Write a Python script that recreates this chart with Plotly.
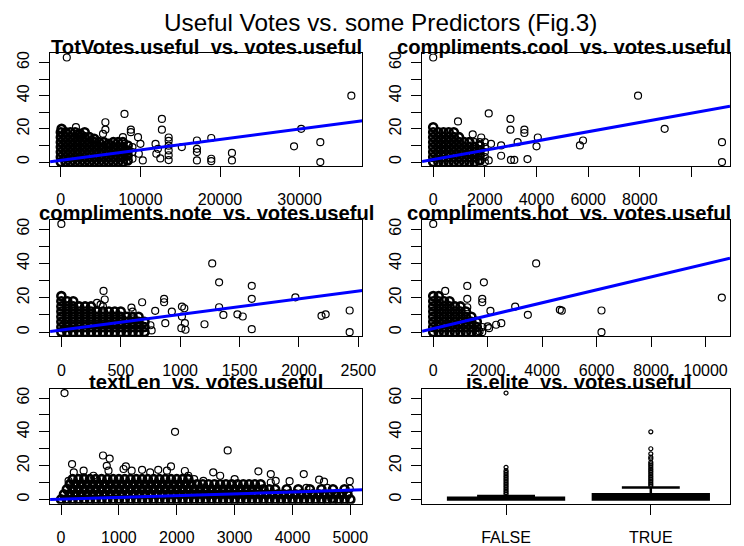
import plotly.graph_objects as go

# ---------------- data ----------------
# dense cores (thousands of overlapping points in the original), sampled by hand
tot_core = [
    (0, 0), (0, 3), (0, 6), (0, 9), (0, 12), (0, 15), (0, 18), (100, 20),
    (600, 0), (600, 3), (600, 6), (600, 9), (600, 12), (600, 15), (600, 18),
    (1200, 0), (1200, 3), (1200, 6), (1200, 9), (1200, 12), (1200, 15), (1200, 18),
    (1800, 0), (1800, 3), (1800, 6), (1800, 9), (1800, 12), (1800, 15), (1800, 18),
    (2400, 0), (2400, 3), (2400, 6), (2400, 9), (2400, 12), (2400, 15), (2400, 17),
    (3000, 0), (3000, 3), (3000, 6), (3000, 9), (3000, 12), (3000, 15), (3000, 18),
    (3600, 0), (3600, 3), (3600, 6), (3600, 9), (3600, 12), (3600, 15),
    (4200, 0), (4200, 3), (4200, 6), (4200, 9), (4200, 12), (4200, 14),
    (4800, 0), (4800, 3), (4800, 6), (4800, 9), (4800, 12),
    (5400, 0), (5400, 3), (5400, 6), (5400, 9), (5400, 12),
    (6000, 0), (6000, 3), (6000, 6), (6000, 9), (6000, 11),
    (6600, 0), (6600, 3), (6600, 6), (6600, 9), (6600, 12),
    (7200, 0), (7200, 3), (7200, 6), (7200, 9), (7200, 12),
    (7800, 0), (7800, 3), (7800, 6), (7800, 9), (7800, 12),
    (8400, 1), (8400, 4), (8400, 7), (8400, 10),
]
tot_pts = [
    (1900, 21), (7800, 15), (9000, 2), (9000, 6), (9000, 9),
    (750, 63), (5300, 17), (5600, 19.5), (5600, 24), (8000, 29), (8800, 19.5), (8800, 18),
    (9700, 15), (10000, 11), (9800, 5), (10300, 1),
    (12700, 26), (12700, 19.5), (13550, 14.8), (13550, 12.8), (13550, 9.9), (13550, 7),
    (13550, 4.1), (13550, 1.2), (11900, 10.9), (12200, 8), (12000, 5), (12500, 2.2),
    (15200, 9), (17100, 13), (17100, 8), (17100, 6), (17100, 1), (18900, 14.5),
    (18900, 2), (18900, 0.5), (21500, 5.5), (21500, 1), (29300, 9.5), (30200, 20),
    (32600, 12), (32600, 0), (36500, 40),
]

cool_core = [
    (0, 0), (0, 3), (0, 6), (0, 9), (0, 12), (0, 15), (0, 18), (0, 21),
    (200, 0), (200, 3), (200, 6), (200, 9), (200, 12), (200, 15), (200, 18),
    (400, 0), (400, 3), (400, 6), (400, 9), (400, 12), (400, 15), (400, 18),
    (600, 0), (600, 3), (600, 6), (600, 9), (600, 12), (600, 15), (600, 18),
    (800, 0), (800, 3), (800, 6), (800, 9), (800, 12), (800, 15), (800, 18),
    (1000, 0), (1000, 3), (1000, 6), (1000, 9), (1000, 12), (1000, 15),
    (1200, 0), (1200, 3), (1200, 6), (1200, 9), (1200, 12),
    (1400, 0), (1400, 3), (1400, 6), (1400, 9), (1400, 12),
    (1600, 0), (1600, 3), (1600, 6), (1600, 9),
    (1800, 1), (1800, 4), (1800, 7), (1800, 10),
]
cool_pts = [
    (1600, 12), (1800, 12), (2000, 0), (2000, 3), (2000, 6), (2000, 9), (2000, 12),
    (0, 63), (960, 24.5), (2150, 29.3), (1530, 16.7), (1860, 14.8), (2240, 11), (2630, 10),
    (2990, 26), (2990, 19.5), (3530, 19.5), (3530, 17.5), (3270, 12), (4050, 14.8),
    (4000, 9.5), (2630, 3.8), (3010, 1.3), (3140, 1.3), (3650, 1.8), (2150, 1),
    (5680, 10), (5800, 13), (7930, 40), (8960, 20), (11180, 12), (11180, 0),
]

note_core = [
    (0, 0), (0, 3), (0, 6), (0, 9), (0, 12), (0, 15), (0, 18), (0, 21),
    (50, 0), (50, 3), (50, 6), (50, 9), (50, 12), (50, 15), (50, 18),
    (100, 0), (100, 3), (100, 6), (100, 9), (100, 12), (100, 15), (100, 18),
    (150, 0), (150, 3), (150, 6), (150, 9), (150, 12), (150, 15),
    (200, 0), (200, 3), (200, 6), (200, 9), (200, 12), (200, 15),
    (250, 0), (250, 3), (250, 6), (250, 9), (250, 12), (250, 15),
    (300, 0), (300, 3), (300, 6), (300, 9), (300, 12),
    (350, 0), (350, 3), (350, 6), (350, 9), (350, 12),
    (400, 0), (400, 3), (400, 6), (400, 9), (400, 12),
    (450, 0), (450, 3), (450, 6), (450, 9), (450, 12),
    (500, 0), (500, 3), (500, 6), (500, 9), (500, 12),
    (550, 0), (550, 3), (550, 6), (550, 9),
    (600, 0), (600, 3), (600, 6), (600, 9),
    (650, 0), (650, 3), (650, 6), (650, 9),
    (700, 0), (700, 3), (700, 6),
]
note_pts = [
    (350, 15), (600, 12),
    (0, 63), (355, 24), (365, 19), (300, 17), (330, 16), (680, 17.4), (590, 14.3),
    (865, 19.4), (865, 17.4), (790, 12.4), (875, 5.2), (930, 12), (1015, 14.9),
    (1035, 13.9), (1015, 9.1), (1040, 5.2), (1010, 2.3), (1045, 1.4), (1205, 4.6),
    (750, 4), (760, 1),
    (1270, 40), (1328, 29), (1328, 14.5), (1364, 10), (1482, 10.4), (1527, 9.1),
    (1603, 27), (1603, 19.4), (1603, 1.7), (1970, 20.3), (2190, 9.5), (2225, 10.4),
    (2427, 12.6), (2427, 0),
]

hot_core = [
    (0, 0), (0, 3), (0, 6), (0, 9), (0, 12), (0, 15), (0, 18), (0, 21),
    (200, 0), (200, 3), (200, 6), (200, 9), (200, 12), (200, 15), (200, 18), (200, 21),
    (400, 0), (400, 3), (400, 6), (400, 9), (400, 12), (400, 15), (400, 18),
    (600, 0), (600, 3), (600, 6), (600, 9), (600, 12), (600, 15), (600, 18),
    (800, 0), (800, 3), (800, 6), (800, 9), (800, 12), (800, 15),
    (1000, 0), (1000, 3), (1000, 6), (1000, 9), (1000, 12), (1000, 15),
    (1200, 0), (1200, 3), (1200, 6), (1200, 9), (1200, 12),
    (1400, 0), (1400, 3), (1400, 6), (1400, 9),
    (1600, 0), (1600, 3), (1600, 6),
]
hot_pts = [
    (1800, 0), (1800, 3),
    (0, 63), (440, 24), (1250, 26.9), (1860, 29), (1800, 19.4), (1800, 17.4),
    (1250, 19.4), (1250, 14.5), (2100, 12.4), (3010, 14.9), (3475, 10.1),
    (4650, 13), (4720, 12.5), (3780, 40), (2500, 5.2), (2310, 4.3), (2000, 3.3),
    (1700, 0.4), (2050, 2.3), (6180, 12.6), (6180, 0), (10600, 20.1),
]

len_core = [
    # y = 0 band
    (0, 0), (100, 0), (200, 0), (300, 0), (400, 0), (500, 0), (600, 0), (700, 0), (800, 0), (900, 0),
    (1000, 0), (1100, 0), (1200, 0), (1300, 0), (1400, 0), (1500, 0), (1600, 0), (1700, 0), (1800, 0), (1900, 0),
    (2000, 0), (2100, 0), (2200, 0), (2300, 0), (2400, 0), (2500, 0), (2600, 0), (2700, 0), (2800, 0), (2900, 0),
    (3000, 0), (3100, 0), (3200, 0), (3300, 0), (3400, 0), (3500, 0), (3600, 0), (3700, 0), (3800, 0), (3900, 0),
    (4000, 0), (4100, 0), (4200, 0), (4300, 0), (4400, 0), (4500, 0), (4600, 0), (4700, 0), (4800, 0), (4900, 0),
    (5000, 0),
    # y = 3 band
    (50, 3), (150, 3), (250, 3), (350, 3), (450, 3), (550, 3), (650, 3), (750, 3), (850, 3), (950, 3),
    (1050, 3), (1150, 3), (1250, 3), (1350, 3), (1450, 3), (1550, 3), (1650, 3), (1750, 3), (1850, 3), (1950, 3),
    (2050, 3), (2150, 3), (2250, 3), (2350, 3), (2450, 3), (2550, 3), (2650, 3), (2750, 3), (2850, 3), (2950, 3),
    (3050, 3), (3150, 3), (3250, 3), (3350, 3), (3450, 3), (3550, 3), (3650, 3), (3750, 3), (3850, 3), (3950, 3),
    (4050, 3), (4150, 3), (4250, 3), (4350, 3), (4450, 3), (4550, 3), (4650, 3), (4750, 3), (4850, 3), (4950, 3),
    # y = 6 band
    (100, 6), (200, 6), (300, 6), (400, 6), (500, 6), (600, 6), (700, 6), (800, 6), (900, 6), (1000, 6),
    (1100, 6), (1200, 6), (1300, 6), (1400, 6), (1500, 6), (1600, 6), (1700, 6), (1800, 6), (1900, 6), (2000, 6),
    (2100, 6), (2200, 6), (2300, 6), (2400, 6), (2500, 6), (2600, 6), (2700, 6), (2800, 6), (2900, 6), (3000, 6),
    (3100, 6), (3200, 6), (3300, 6), (3400, 6), (3500, 6), (3600, 6), (3700, 6), (3900, 6), (4100, 6), (4300, 6),
    (4500, 6), (4700, 6), (4900, 6),
    # y = 9 band
    (150, 9), (250, 9), (350, 9), (450, 9), (550, 9), (650, 9), (750, 9), (850, 9), (950, 9), (1050, 9),
    (1150, 9), (1250, 9), (1350, 9), (1450, 9), (1550, 9), (1650, 9), (1750, 9), (1850, 9), (1950, 9), (2050, 9),
    (2150, 9), (2250, 9), (2350, 9), (2450, 9), (2550, 9), (2650, 9), (2750, 9), (2850, 9), (2950, 9), (3050, 9),
    (3150, 9), (3250, 9), (3350, 9), (3450, 9),
    # y = 12 band
    (200, 12), (300, 12), (400, 12), (500, 12), (600, 12), (700, 12), (800, 12), (900, 12), (1000, 12), (1100, 12),
    (1200, 12), (1300, 12), (1400, 12), (1500, 12), (1600, 12), (1700, 12), (1800, 12), (1900, 12), (2000, 12),
    (2100, 12), (2200, 12),
]
len_pts = [
    (60, 63), (1970, 40), (2880, 29), (190, 20.9), (220, 16), (725, 26), (840, 24.2), (790, 19.9),
    (820, 17), (1080, 18), (1120, 19.5), (1220, 17), (1400, 17.5), (1540, 16), (1680, 17.5),
    (1830, 17), (1900, 19.5), (2140, 16.8), (2200, 14), (2460, 11), (390, 17), (390, 13),
    (560, 14), (130, 11), (160, 9), (2630, 16), (2750, 14), (3000, 12), (3410, 16.6),
    (3625, 15), (3625, 10), (3710, 11), (3950, 10.8), (4195, 15), (4240, 6.8), (4460, 11.7),
    (4545, 10.5), (4600, 6.8), (4990, 10.8), (4990, 6.3), (4670, 0.4), (2300, 12),
]

# regression lines (intercept, slope)
tot_fit = (1.05, 0.00063)
cool_fit = (1.5, 0.0028)
note_fit = (1.2, 0.0091)
hot_fit = (2.05, 0.00376)
len_fit = (0.1, 0.00107)

# boxplot is.elite
elite_pos = [1, 2]
elite_labels = ["FALSE", "TRUE"]
elite_q1 = [0, 0]
elite_med = [0, 1]
elite_q3 = [1, 3]
elite_lo = [0, 0]
elite_hi = [2, 7]
elite_false_out = [3, 4, 5, 6, 7, 8, 9, 10, 11, 12, 13, 14, 15, 16, 17, 19, 63]
elite_true_out = [8, 9, 10, 11, 12, 13, 14, 15, 16, 17, 18, 19, 20, 21, 22, 24, 25, 27, 30, 40]

titles = [
    "TotVotes.useful\u00a0\u00a0vs. votes.useful",
    "compliments.cool\u00a0\u00a0vs. votes.useful",
    "compliments.note\u00a0\u00a0vs. votes.useful",
    "compliments.hot\u00a0\u00a0vs. votes.useful",
    "textLen\u00a0\u00a0vs. votes.useful",
    "is.elite\u00a0\u00a0vs. votes.useful",
]
main_title = "Useful Votes vs. some Predictors (Fig.3)"

y_ticks = [0, 10, 20, 30, 40, 50, 60]
y_ticklabels = ["0", "", "20", "", "40", "", "60"]

x_ticks = [
    [0, 10000, 20000, 30000],
    [0, 2000, 4000, 6000, 8000, 10000],
    [0, 500, 1000, 1500, 2000, 2500],
    [0, 2000, 4000, 6000, 8000, 10000],
    [0, 1000, 2000, 3000, 4000, 5000],
    elite_pos,
]
x_ticklabels = [
    ["0", "10000", "20000", "30000"],
    ["0", "2000", "4000", "6000", "8000", ""],
    ["0", "500", "1000", "1500", "2000", "2500"],
    ["0", "2000", "4000", "6000", "8000", "10000"],
    ["0", "1000", "2000", "3000", "4000", "5000"],
    elite_labels,
]
x_ranges = [
    [-1350, 37900],
    [-430, 11490],
    [-95, 2535],
    [-410, 10900],
    [-190, 5210],
    [0.42, 2.547],
]
y_range = [-2.52, 65.52]

# ---------------- layout geometry ----------------
W, H = 744, 546
WE = 729.0          # width that the page is effectively laid out on
col_px = [(50, 362), (421.5, 729)]
row_px = [(52.3, 167.3), (221.7, 340.7), (394, 511)]
title_cx = [206, 563, 206, 568, 206, 577.75]

FONT = "Liberation Sans"

fig = go.Figure()

scatter_sets = [(tot_core, tot_pts, tot_fit), (cool_core, cool_pts, cool_fit),
                (note_core, note_pts, note_fit), (hot_core, hot_pts, hot_fit),
                (len_core, len_pts, len_fit)]

for i, (core, pts, fit) in enumerate(scatter_sets):
    ax = "" if i == 0 else str(i + 1)
    fig.add_trace(go.Scatter(
        x=[p[0] for p in core], y=[p[1] for p in core], mode="markers",
        xaxis="x" + ax, yaxis="y" + ax,
        marker=dict(symbol="circle-open", size=8, color="black",
                    line=dict(width=2.6, color="black")),
        showlegend=False, hoverinfo="skip"))
    fig.add_trace(go.Scatter(
        x=[p[0] for p in pts], y=[p[1] for p in pts], mode="markers",
        xaxis="x" + ax, yaxis="y" + ax,
        marker=dict(symbol="circle-open", size=7, color="black",
                    line=dict(width=1.2, color="black")),
        showlegend=False, hoverinfo="skip"))
    r0, r1 = x_ranges[i]
    a, b = fit
    fig.add_trace(go.Scatter(
        x=[r0, r1], y=[a + b * r0, a + b * r1], mode="lines",
        xaxis="x" + ax, yaxis="y" + ax,
        line=dict(color="#0000FF", width=3), showlegend=False, hoverinfo="skip"))

# boxplot panel
for k in range(2):
    fig.add_trace(go.Box(
        x=[elite_pos[k]], q1=[elite_q1[k]], median=[elite_med[k]], q3=[elite_q3[k]],
        lowerfence=[elite_lo[k]], upperfence=[elite_hi[k]], orientation="v",
        width=0.8, whiskerwidth=0.5, fillcolor="black",
        line=dict(color="black", width=2.5), boxpoints=False,
        xaxis="x6", yaxis="y6", showlegend=False, hoverinfo="skip"))
for k, outs in enumerate([elite_false_out, elite_true_out]):
    fig.add_trace(go.Scatter(
        x=[elite_pos[k]] * len(outs), y=outs, mode="markers", xaxis="x6", yaxis="y6",
        marker=dict(symbol="circle-open", size=4, color="black",
                    line=dict(width=1.2, color="black")),
        showlegend=False, hoverinfo="skip"))

layout = dict(
    width=W, height=H, autosize=False, margin=dict(l=0, r=0, t=0, b=0, pad=0),
    paper_bgcolor="white", plot_bgcolor="white", showlegend=False,
    font=dict(family=FONT, color="black"),
)

annotations = [dict(
    text=main_title, x=379.5 / WE, y=1 - 21 / H, xref="paper", yref="paper",
    xanchor="center", yanchor="middle", showarrow=False, borderpad=0,
    font=dict(family=FONT, size=24.3, color="black"))]

for i in range(6):
    r, c = divmod(i, 2)
    ax = "" if i == 0 else str(i + 1)
    x0, x1 = col_px[c]
    t, btm = row_px[r]
    layout["xaxis" + ax] = dict(
        domain=[x0 / WE, min(1.0, x1 / WE)], anchor="y" + ax, range=x_ranges[i],
        tickmode="array", tickvals=x_ticks[i], ticktext=x_ticklabels[i],
        showline=True, linecolor="black", linewidth=1, mirror=True,
        ticks="outside", ticklen=10, tickwidth=1, tickcolor="black",
        showgrid=False, zeroline=False, tickangle=0, ticklabelstandoff=9,
        tickfont=dict(family=FONT, size=16, color="black"))
    layout["yaxis" + ax] = dict(
        domain=[1 - btm / H, 1 - t / H], anchor="x" + ax, range=y_range,
        tickmode="array", tickvals=y_ticks, ticktext=y_ticklabels,
        showline=True, linecolor="black", linewidth=1, mirror=True,
        ticks="outside", ticklen=10, tickwidth=1, tickcolor="black",
        showgrid=False, zeroline=False, tickangle=-90, ticklabelstandoff=4,
        tickfont=dict(family=FONT, size=16, color="black"))
    annotations.append(dict(
        text="<b>" + titles[i] + "</b>", x=title_cx[i] / WE, y=1 - (t - 6.6) / H,
        xref="paper", yref="paper", xanchor="center", yanchor="middle",
        showarrow=False, borderpad=0, borderwidth=0,
        font=dict(family=FONT, size=20.2, color="black")))

layout["annotations"] = annotations
fig.update_layout(**layout)

fig.write_html("out.html")
